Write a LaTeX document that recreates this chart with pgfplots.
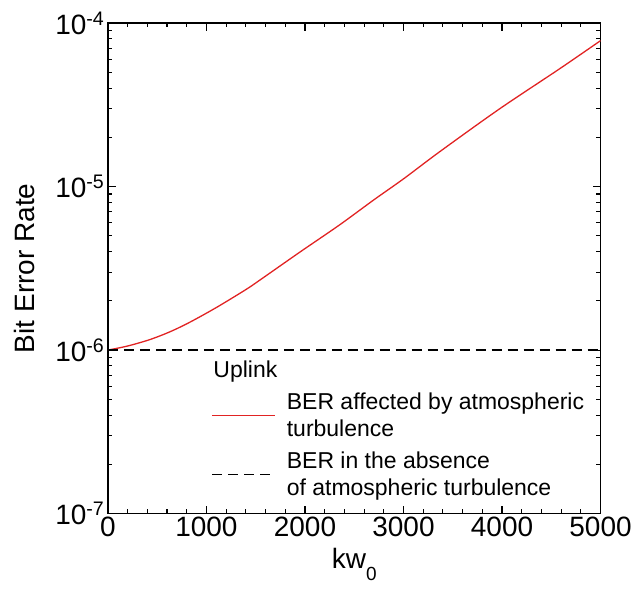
\documentclass[border=0pt]{standalone}
\usepackage{fontspec}
\setmainfont{Liberation Sans}
\usepackage{pgfplots}
\pgfplotsset{compat=1.18}
\definecolor{berred}{RGB}{225,35,35}
\begin{document}
\begin{tikzpicture}
\begin{axis}[
  scale only axis, width=493pt, height=491pt,
  xmin=0, xmax=5000, ymode=log, ymin=1e-7, ymax=1e-4,
  xtick={0,1000,2000,3000,4000,5000},
  xticklabels={0,1000,2000,3000,4000,5000},
  minor x tick num=4,
  ytick={1e-7,1e-6,1e-5,1e-4},
  yticklabels={10\textsuperscript{-7},10\textsuperscript{-6},10\textsuperscript{-5},10\textsuperscript{-4}},
  minor ytick={2e-7,3e-7,4e-7,5e-7,6e-7,7e-7,8e-7,9e-7,2e-6,3e-6,4e-6,5e-6,6e-6,7e-6,8e-6,9e-6,2e-5,3e-5,4e-5,5e-5,6e-5,7e-5,8e-5,9e-5},
  tick align=inside, major tick length=8pt, minor tick length=4.5pt,
  every tick/.style={line width=1.1pt, black},
  axis line style={line width=1.5pt},
  ticklabel style={font=\fontsize{28}{30}\selectfont},
  label style={font=\fontsize{28}{30}\selectfont},
  xlabel={kw\raisebox{-12pt}{\fontsize{19}{19}\selectfont 0}},
  ylabel={Bit Error Rate},
  xlabel style={yshift=-4pt},
  ylabel style={yshift=14pt},
  legend style={at={(rel axis cs:0.204,0.255)}, anchor=north west, draw=none, fill=none,
    font=\fontsize{23}{27}\selectfont, row sep=10pt,
    cells={align=left, anchor=west}},
  legend image code/.code={\draw[#1] (0pt,0pt) -- (63pt,0pt); \path (72pt,0pt);},
]
\addplot[berred, line width=1.3pt, smooth] coordinates {
(0,1.000e-6) (200,1.059e-6) (425,1.159e-6) (630,1.294e-6) (830,1.479e-6)
(1100,1.820e-6) (1400,2.344e-6) (1550,2.70e-6) (1950,3.98e-6) (2350,5.82e-6)
(2700,8.30e-6) (3000,1.114e-5) (3370,1.637e-5) (3975,2.985e-5) (4585,5.25e-5) (5000,7.80e-5)};
\addlegendentry{BER affected by atmospheric\\turbulence}
\addplot[black, line width=1.3pt, dash pattern=on 10pt off 6pt] coordinates {(0,1e-6) (5000,1e-6)};
\addlegendentry{BER in the absence\\of atmospheric turbulence}
\node[anchor=west, font=\fontsize{23}{27}\selectfont] at (rel axis cs:0.207,0.289) {Uplink};
\end{axis}
\path (current axis.south west) +(-108pt,-75pt);
\path (current axis.north east) +(34pt,23pt);
\end{tikzpicture}
\end{document}
